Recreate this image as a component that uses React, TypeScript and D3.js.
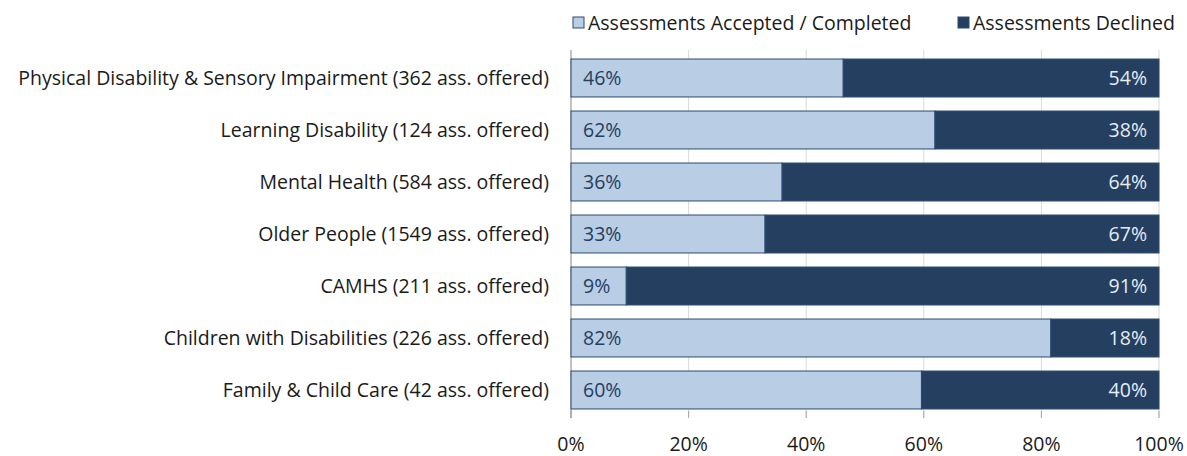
import React, { useEffect, useRef } from "react";
import * as d3 from "d3";

const categories = [
  "Physical Disability & Sensory Impairment (362 ass. offered)",
  "Learning Disability (124 ass. offered)",
  "Mental Health (584 ass. offered)",
  "Older People (1549 ass. offered)",
  "CAMHS (211 ass. offered)",
  "Children with Disabilities (226 ass. offered)",
  "Family & Child Care (42 ass. offered)",
];
const accepted = [46.3, 61.9, 35.9, 33.0, 9.4, 81.6, 59.6];
const declined = accepted.map((v) => 100 - v);
const seriesNames = ["Assessments Accepted / Completed", "Assessments Declined"];
const xTicks = [0, 20, 40, 60, 80, 100];

const LIGHT = "#b9cde5";
const DARK = "#243f60";

const App = () => {
  const ref = useRef<SVGSVGElement>(null);

  useEffect(() => {
    const width = 1187;
    const height = 456;
    const svg = d3.select(ref.current);
    svg.selectAll("*").remove();
    svg.attr("width", width).attr("height", height);

    const font = "'Open Sans', sans-serif";
    const fs = 19.5;
    const x = d3.scaleLinear().domain([0, 100]).range([571, 1159]);
    const y = d3.scaleBand().domain(categories).range([52, 416]).paddingInner(0.27).paddingOuter(0.135);

    // grid lines
    svg
      .append("g")
      .selectAll("line")
      .data(xTicks.slice(1))
      .enter()
      .append("line")
      .attr("x1", (d) => x(d))
      .attr("x2", (d) => x(d))
      .attr("y1", 50)
      .attr("y2", 418)
      .attr("stroke", "#d9d9d9")
      .attr("stroke-width", 1);

    // bottom tick marks
    svg
      .append("g")
      .selectAll("line")
      .data(xTicks)
      .enter()
      .append("line")
      .attr("x1", (d) => x(d))
      .attr("x2", (d) => x(d))
      .attr("y1", 411)
      .attr("y2", 418)
      .attr("stroke", "#a6a6a6");

    // left axis
    svg
      .append("line")
      .attr("x1", x(0))
      .attr("x2", x(0))
      .attr("y1", 50)
      .attr("y2", 418)
      .attr("stroke", "#868686");

    const rows = categories.map((c, i) => ({ c, a: accepted[i], d: declined[i] }));

    const g = svg.append("g");
    g.selectAll("rect.acc")
      .data(rows)
      .enter()
      .append("rect")
      .attr("x", x(0))
      .attr("y", (d) => y(d.c)!)
      .attr("width", (d) => x(d.a) - x(0))
      .attr("height", y.bandwidth())
      .attr("fill", LIGHT)
      .attr("stroke", "#2c4a70")
      .attr("stroke-width", 1);

    g.selectAll("rect.dec")
      .data(rows)
      .enter()
      .append("rect")
      .attr("x", (d) => x(d.a))
      .attr("y", (d) => y(d.c)!)
      .attr("width", (d) => x(100) - x(d.a))
      .attr("height", y.bandwidth())
      .attr("fill", DARK)
      .attr("stroke", "#2c4a70")
      .attr("stroke-width", 1);

    g.selectAll("text.acc")
      .data(rows)
      .enter()
      .append("text")
      .attr("x", x(0) + 12)
      .attr("y", (d) => y(d.c)! + y.bandwidth() / 2)
      .attr("dy", "0.36em")
      .attr("font-family", font)
      .attr("font-size", fs)
      .attr("fill", DARK)
      .text((d) => `${Math.round(d.a)}%`);

    g.selectAll("text.dec")
      .data(rows)
      .enter()
      .append("text")
      .attr("x", x(100) - 12)
      .attr("y", (d) => y(d.c)! + y.bandwidth() / 2)
      .attr("dy", "0.36em")
      .attr("text-anchor", "end")
      .attr("font-family", font)
      .attr("font-size", fs)
      .attr("fill", "#e4ecf6")
      .text((d) => `${Math.round(d.d)}%`);

    // category labels
    svg
      .append("g")
      .selectAll("text")
      .data(categories)
      .enter()
      .append("text")
      .attr("x", 549)
      .attr("y", (d) => y(d)! + y.bandwidth() / 2)
      .attr("dy", "0.36em")
      .attr("text-anchor", "end")
      .attr("font-family", font)
      .attr("font-size", fs)
      .attr("fill", "#1a1a1a")
      .text((d) => d);

    // x tick labels
    svg
      .append("g")
      .selectAll("text")
      .data(xTicks)
      .enter()
      .append("text")
      .attr("x", (d) => x(d))
      .attr("y", 444)
      .attr("dy", "0.36em")
      .attr("text-anchor", "middle")
      .attr("font-family", font)
      .attr("font-size", fs)
      .attr("fill", "#1a1a1a")
      .text((d) => `${d}%`);

    // legend
    const legendX = [573, 958];
    const legend = svg
      .append("g")
      .selectAll("g")
      .data(seriesNames)
      .enter()
      .append("g")
      .attr("transform", (d, i) => `translate(${legendX[i]},17)`);
    legend
      .append("rect")
      .attr("width", 11)
      .attr("height", 11)
      .attr("fill", (d, i) => (i === 0 ? LIGHT : DARK))
      .attr("stroke", "#2c4a70");
    legend
      .append("text")
      .attr("x", 15)
      .attr("y", 6)
      .attr("dy", "0.36em")
      .attr("font-family", font)
      .attr("font-size", fs)
      .attr("fill", "#1a1a1a")
      .text((d) => d);
  }, []);

  return <svg ref={ref} style={{ position: "absolute", left: 0, top: 0 }} />;
};

export default App;
